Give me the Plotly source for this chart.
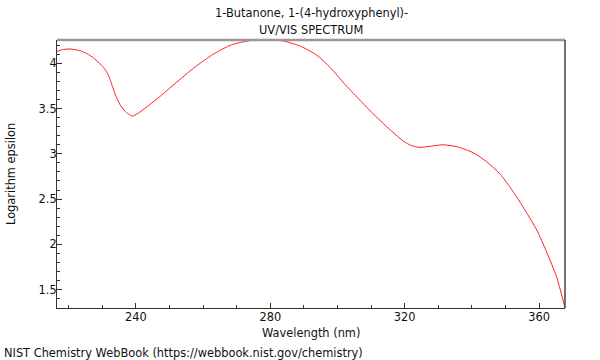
import plotly.graph_objects as go

# Wavelength (nm) and log(epsilon)
wavelength = [216.5, 218.0, 220.4, 223.3, 225.5, 227.3, 229.0, 230.3, 231.5, 232.3, 233.8,
              235.3, 237.2, 239.0, 241.2, 244.0, 247.2, 252.1, 257.1, 263.0, 268.5,
              273.9, 278.9, 283.9, 288.9, 293.8, 297.8, 302.0, 306.2, 309.7, 314.6,
              319.6, 322.0, 324.5, 328.0, 331.5, 335.5, 340.4, 344.4, 348.4, 352.3, 355.8,
              359.3, 362.2, 365.2, 367.7]
log_eps = [4.13, 4.15, 4.158, 4.139, 4.105, 4.06, 4.005, 3.955, 3.89, 3.82, 3.66,
           3.54, 3.454, 3.417, 3.462, 3.54, 3.635, 3.79, 3.945, 4.10, 4.205,
           4.25, 4.262, 4.246, 4.19, 4.09, 3.955, 3.775, 3.61, 3.475, 3.30,
           3.14, 3.09, 3.071, 3.085, 3.10, 3.078, 3.012, 2.912, 2.776, 2.581, 2.378,
           2.158, 1.918, 1.641, 1.30]

title_lines = ["1-Butanone, 1-(4-hydroxyphenyl)-", "UV/VIS SPECTRUM"]
x_title = "Wavelength (nm)"
y_title = "Logarithm epsilon"
credit = "NIST Chemistry WebBook (https://webbook.nist.gov/chemistry)"

FONT = "DejaVu Sans"
FS = 11.4
AX = "#333333"

fig = go.Figure()
fig.add_trace(go.Scatter(x=wavelength, y=log_eps, mode="lines",
                         line=dict(color="#ff2020", width=1, shape="spline", smoothing=0.6),
                         hoverinfo="skip"))

fig.update_layout(
    width=600, height=360,
    margin=dict(l=57, r=35, t=40, b=52, autoexpand=False),
    paper_bgcolor="white", plot_bgcolor="white",
    showlegend=False,
    font=dict(family=FONT, size=FS, color="#111111"),
    xaxis=dict(range=[216.5, 367.7], dtick=40, tick0=0, ticks="inside", ticklen=5,
               tickcolor=AX, tickwidth=1, showgrid=False, zeroline=False,
               showline=True, linecolor=AX, linewidth=1, mirror=False,
               ticklabelstandoff=-2,
               minor=dict(dtick=10, ticks="inside", ticklen=3, tickcolor=AX, showgrid=False),
               tickfont=dict(family=FONT, size=FS)),
    yaxis=dict(range=[1.297, 4.257], dtick=0.5, tick0=0, ticks="inside", ticklen=5,
               tickcolor=AX, tickwidth=1, showgrid=False, zeroline=False,
               showline=True, linecolor=AX, linewidth=1, mirror=False,
               ticklabelstandoff=-3,
               minor=dict(dtick=0.1, ticks="inside", ticklen=3, tickcolor=AX, showgrid=False),
               tickfont=dict(family=FONT, size=FS)),
)

# top (grey) and right (dark) frame lines
fig.add_shape(type="line", xref="paper", yref="paper", x0=0, x1=1, y0=1, y1=1,
              line=dict(color="#999999", width=2.5))
fig.add_shape(type="line", xref="paper", yref="paper", x0=1, x1=1, y0=0, y1=1,
              line=dict(color="#444444", width=1.5))

fig.add_annotation(text=title_lines[0], xref="paper", yref="paper", x=0.5, y=1.1,
                   xanchor="center", yanchor="middle", showarrow=False,
                   font=dict(family=FONT, size=FS))
fig.add_annotation(text=title_lines[1], xref="paper", yref="paper", x=0.5, y=1.037,
                   xanchor="center", yanchor="middle", showarrow=False,
                   font=dict(family=FONT, size=FS))
fig.add_annotation(text=x_title, xref="paper", yref="paper", x=0.5, y=-25 / 268,
                   xanchor="center", yanchor="middle", showarrow=False,
                   font=dict(family=FONT, size=FS))
fig.add_annotation(text=y_title, xref="paper", yref="paper", x=-46 / 508, y=0.5,
                   xanchor="center", yanchor="middle", textangle=-90, showarrow=False,
                   font=dict(family=FONT, size=FS))
fig.add_annotation(text=credit, xref="paper", yref="paper", x=-55 / 508, y=-45 / 268,
                   xanchor="left", yanchor="middle", showarrow=False,
                   font=dict(family=FONT, size=FS))

fig.write_html("out.html", config={"displayModeBar": False},
               post_script="document.body.style.margin='0';document.body.style.overflow='hidden';")
